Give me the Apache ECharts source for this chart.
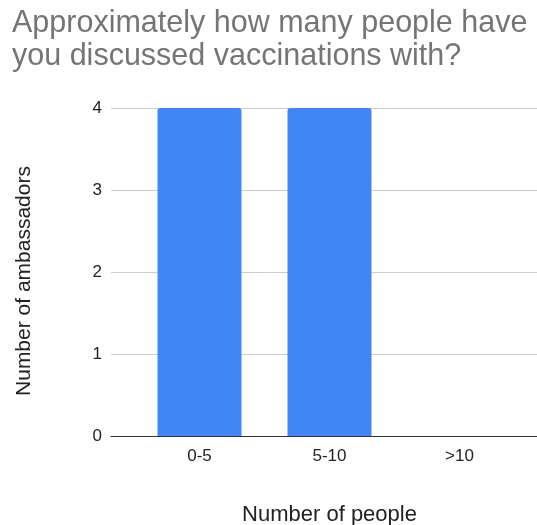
<!DOCTYPE html>
<html>
<head>
<meta charset="utf-8">
<script src="https://cdn.jsdelivr.net/npm/echarts@6/dist/echarts.min.js"></script>
<style>html,body{margin:0;padding:0;background:#fff}#c{width:537px;height:525px}</style>
</head>
<body>
<div id="c"></div>
<script>
var categories = ['0-5', '5-10', '>10'];
var ambassadors = [4, 4, 0];
var yTicks = [0, 1, 2, 3, 4];

var FONT = '"Liberation Sans", Arial, sans-serif';
var chart = echarts.init(document.getElementById('c'), null, {renderer: 'canvas'});
chart.setOption({
  animation: false,
  title: {
    text: 'Approximately how many people have\nyou discussed vaccinations with?',
    left: 7, top: 2,
    textStyle: {fontFamily: FONT, fontSize: 30.5, fontWeight: 'normal', color: '#757575', lineHeight: 33}
  },
  grid: [
    {left: 134.5, right: 12.5, top: 108, height: 328, outerBoundsMode: 'none', containLabel: false},
    {left: 111, right: 0, top: 108, height: 328, outerBoundsMode: 'none', containLabel: false}
  ],
  xAxis: [
    {type: 'category', gridIndex: 0, data: categories,
     axisLine: {show: false}, axisTick: {show: false},
     axisLabel: {fontFamily: FONT, fontSize: 17, color: '#222', margin: 12},
     name: 'Number of people', nameLocation: 'middle', nameGap: 68,
     nameTextStyle: {fontFamily: FONT, fontSize: 22, color: '#222'}},
    {type: 'value', gridIndex: 1, min: 0, max: 1, show: true,
     axisLine: {show: true, onZero: false, lineStyle: {color: '#333', width: 1}},
     axisTick: {show: false}, axisLabel: {show: false}, splitLine: {show: false}}
  ],
  yAxis: [
    {type: 'value', gridIndex: 0, min: 0, max: 4, interval: 1, show: false},
    {type: 'value', gridIndex: 1, min: yTicks[0], max: yTicks[yTicks.length - 1], interval: 1,
     axisLine: {show: false}, axisTick: {show: false},
     axisLabel: {fontFamily: FONT, fontSize: 17, color: '#222', margin: 9},
     splitLine: {show: true, lineStyle: {color: '#cccccc', width: 1}},
     name: 'Number of ambassadors', nameLocation: 'middle', nameGap: 76,
     nameTextStyle: {fontFamily: FONT, fontSize: 21, color: '#222', padding: [0, 18, 0, 0]}}
  ],
  series: [{
    type: 'bar', xAxisIndex: 0, yAxisIndex: 0, data: ambassadors,
    barWidth: 84, z: 5,
    itemStyle: {color: '#4285F4', borderRadius: [3, 3, 0, 0]}
  }]
});
</script>
</body>
</html>
